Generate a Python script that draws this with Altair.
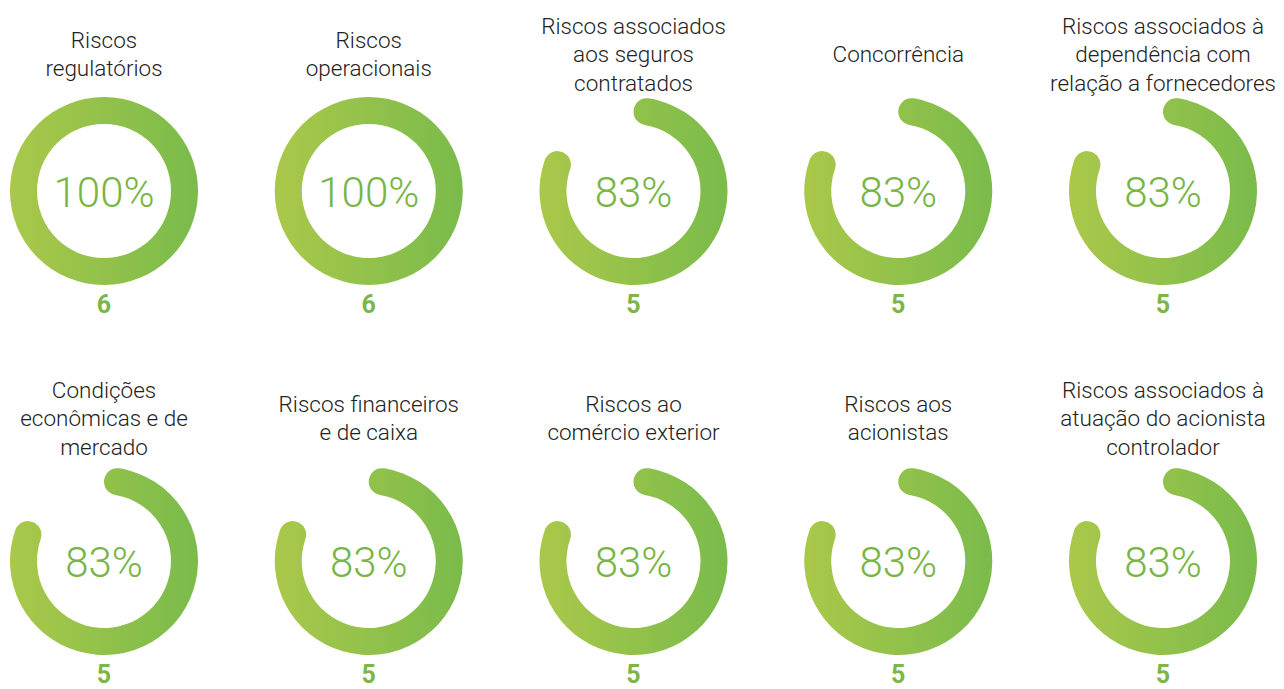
import altair as alt
import pandas as pd

titles = [
    "Riscos\nregulatórios",
    "Riscos\noperacionais",
    "Riscos associados\naos seguros\ncontratados",
    "Concorrência",
    "Riscos associados à\ndependência com\nrelação a fornecedores",
    "Condições\neconômicas e de\nmercado",
    "Riscos financeiros\ne de caixa",
    "Riscos ao\ncomércio exterior",
    "Riscos aos\nacionistas",
    "Riscos associados à\natuação do acionista\ncontrolador",
]
pcts = [100, 100, 83, 83, 83, 83, 83, 83, 83, 83]
counts = [6, 6, 5, 5, 5, 5, 5, 5, 5, 5]

LINE_H = 28.5
ROW_TOP, ROW_BOTTOM = 191, 561
ROW_GAP = ROW_BOTTOM - ROW_TOP

df = pd.DataFrame({
    "title": titles,
    "pct": pcts,
    "count": counts,
    "idx": list(range(len(titles))),
})

yscale = alt.Scale(domain=[0, 1], range=[ROW_TOP, ROW_BOTTOM])

base = alt.Chart(df).transform_calculate(
    col="datum.idx % 5",
    row="floor(datum.idx / 5)",
    t0="0",
    t1="datum.pct / 100 * 2 * PI",
    pct_label="datum.pct + '%'",
    nlines="length(split(datum.title, '\\n'))",
    title_y=f"datum.row + (-136 - 6 * datum.row - (datum.nlines - 1) * {LINE_H} / 2) / {ROW_GAP}",
).encode(
    x=alt.X("col:Q", scale=alt.Scale(domain=[0, 4], range=[104, 1163]), axis=None),
    y=alt.Y("row:Q", scale=yscale, axis=None),
)

grad = alt.Gradient(
    gradient="linear",
    stops=[alt.GradientStop(offset=0, color="#aac84a"),
           alt.GradientStop(offset=1, color="#7abb4b")],
    x1=0, x2=1, y1=0, y2=0,
)

arcs = base.mark_arc(radius=94, radius2=67, cornerRadius=13.5, fill=grad).encode(
    theta=alt.Theta("t0:Q", scale=None),
    theta2="t1:Q",
)

pct_text = base.mark_text(
    font="Roboto", fontWeight=300, fontSize=42, color="#78b545",
    baseline="middle", align="center", dy=3,
).encode(text="pct_label:N")

count_text = base.mark_text(
    font="Roboto", fontWeight="bold", fontSize=25, color="#7ab648",
    baseline="middle", align="center", dy=114,
).encode(text="count:N")

title_text = base.mark_text(
    font="Roboto", fontWeight=300, fontSize=22.5, color="#222222",
    baseline="middle", align="center", lineBreak="\n", lineHeight=LINE_H,
).encode(
    text="title:N",
    y=alt.Y("title_y:Q", scale=yscale, axis=None),
)

chart = alt.layer(arcs, pct_text, count_text, title_text).properties(
    width=1284, height=689, autosize="none", padding=0,
).configure_view(stroke=None)

chart.save("out.html", embed_options={"renderer": "svg", "actions": False})
